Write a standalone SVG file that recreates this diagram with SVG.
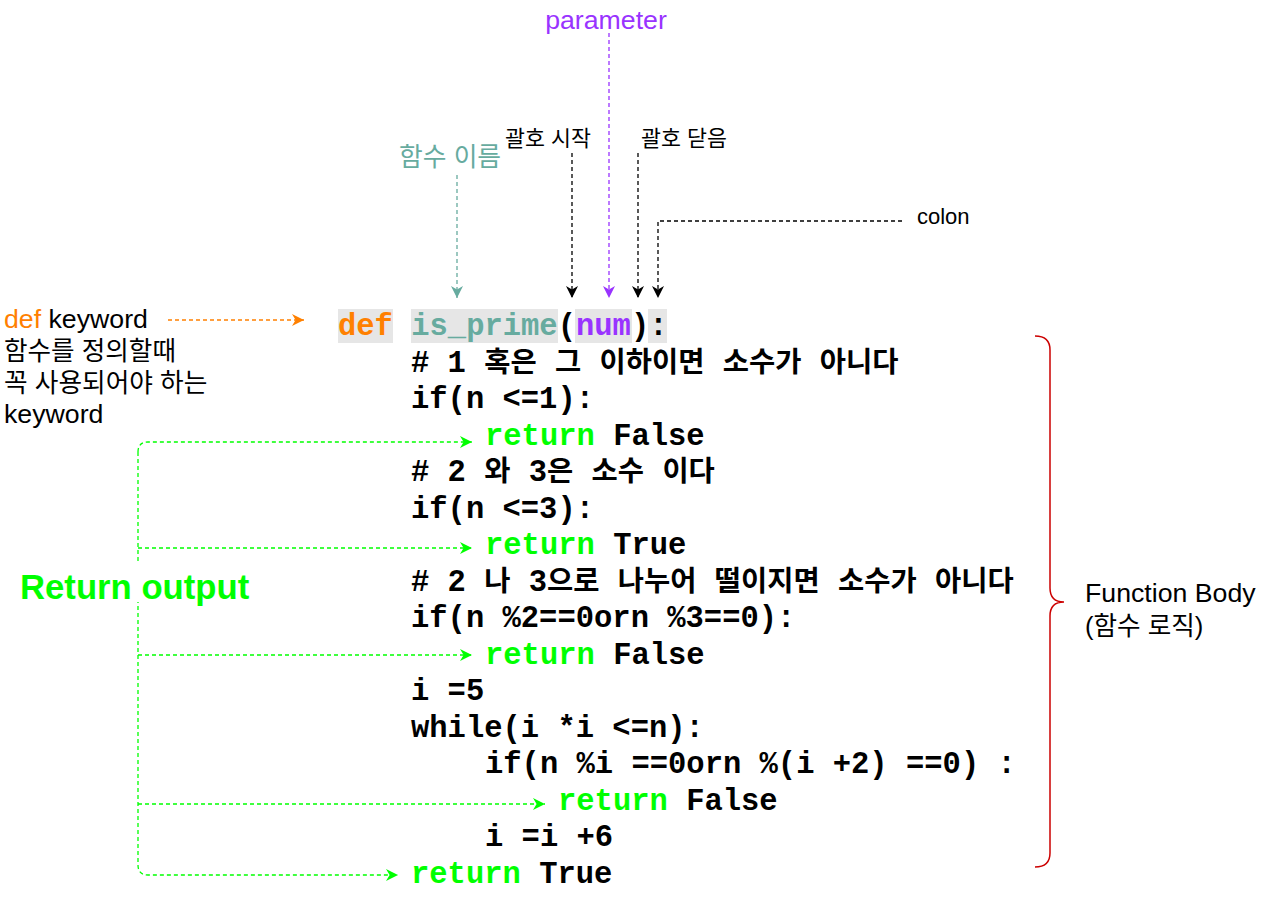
<svg xmlns="http://www.w3.org/2000/svg" width="1280" height="922" viewBox="0 0 1280 922">
<defs>
<style>
.c{font-family:"Liberation Mono","Noto Sans CJK KR",monospace;font-weight:bold;font-size:30.5px;fill:#000;white-space:pre}
.k{font-family:"Noto Sans CJK KR",sans-serif;font-size:28.5px;font-weight:bold}
.g{fill:#00FF00}
.lbl{font-family:"Liberation Sans","Noto Sans CJK KR",sans-serif;fill:#000}
.hl{fill:#E6E6E6}
.dash{fill:none;stroke-width:1.3;stroke-dasharray:4 3}
</style>
<marker id="mBlack" viewBox="0 0 10 10" refX="10" refY="5" markerWidth="12" markerHeight="12" markerUnits="userSpaceOnUse" orient="auto"><path d="M0,0 L10,5 L0,10 L3,5 z" fill="#000"/></marker>
<marker id="mTeal" viewBox="0 0 10 10" refX="10" refY="5" markerWidth="12" markerHeight="12" markerUnits="userSpaceOnUse" orient="auto"><path d="M0,0 L10,5 L0,10 L3,5 z" fill="#67AB9F"/></marker>
<marker id="mPurple" viewBox="0 0 10 10" refX="10" refY="5" markerWidth="12" markerHeight="12" markerUnits="userSpaceOnUse" orient="auto"><path d="M0,0 L10,5 L0,10 L3,5 z" fill="#9933FF"/></marker>
<marker id="mOrange" viewBox="0 0 10 10" refX="10" refY="5" markerWidth="12" markerHeight="12" markerUnits="userSpaceOnUse" orient="auto"><path d="M0,0 L10,5 L0,10 L3,5 z" fill="#FF8000"/></marker>
<marker id="mGreen" viewBox="0 0 10 10" refX="10" refY="5" markerWidth="12" markerHeight="12" markerUnits="userSpaceOnUse" orient="auto"><path d="M0,0 L10,5 L0,10 L3,5 z" fill="#00FF00"/></marker>
</defs>
<rect width="1280" height="922" fill="#FFFFFF"/>

<g id="connectors">
<path class="dash" stroke="#FF8000" d="M168,320 L304,320" marker-end="url(#mOrange)"/>
<path class="dash" stroke="#67AB9F" d="M457,175 L457,298" marker-end="url(#mTeal)"/>
<path class="dash" stroke="#000" d="M572,153 L572,298" marker-end="url(#mBlack)"/>
<path class="dash" stroke="#9933FF" d="M609,33 L609,298" marker-end="url(#mPurple)"/>
<path class="dash" stroke="#000" d="M638,153 L638,298" marker-end="url(#mBlack)"/>
<path class="dash" stroke="#000" d="M902,221 L658,221 L658,298" marker-end="url(#mBlack)"/>
<path class="dash" stroke="#00FF00" d="M138,452 L138,865"/>
<path class="dash" stroke="#00FF00" d="M138,452 Q138,442 148,442 L472,442" marker-end="url(#mGreen)"/>
<path class="dash" stroke="#00FF00" d="M138,548 L472,548" marker-end="url(#mGreen)"/>
<path class="dash" stroke="#00FF00" d="M138,655 L472,655" marker-end="url(#mGreen)"/>
<path class="dash" stroke="#00FF00" d="M138,804 L545,804" marker-end="url(#mGreen)"/>
<path class="dash" stroke="#00FF00" d="M138,865 Q138,875 148,875 L398,875" marker-end="url(#mGreen)"/>
</g>

<g id="label-parameter"><text class="lbl" x="606" y="29" font-size="26.7" text-anchor="middle" style="fill:#9933FF">parameter</text></g>
<g id="label-paren-open"><text class="lbl" x="505" y="146" font-size="21.7">괄호 시작</text></g>
<g id="label-paren-close"><text class="lbl" x="641" y="146" font-size="21.7">괄호 닫음</text></g>
<g id="label-func-name"><text class="lbl" x="399" y="166" font-size="25.8" style="fill:#67AB9F">함수 이름</text></g>
<g id="label-colon"><text class="lbl" x="917" y="224" font-size="22">colon</text></g>

<g id="label-def-keyword">
<text class="lbl" x="4" y="328" font-size="26.7"><tspan style="fill:#FF8000">def</tspan> keyword</text>
<text class="lbl" x="4" y="360" font-size="25.6">함수를 정의할때</text>
<text class="lbl" x="4" y="392" font-size="25.7">꼭 사용되어야 하는</text>
<text class="lbl" x="4" y="423" font-size="26.7">keyword</text>
</g>

<g id="label-return-output">
<rect x="18" y="563" width="234" height="39" fill="#FFFFFF"/>
<text class="lbl" x="20" y="599" font-size="34.7" font-weight="bold" style="fill:#00FF00">Return output</text>
</g>

<g id="function-body-brace">
<path d="M1035,336 Q1050,336 1050,350 L1050,588 Q1050,602 1064,602 Q1050,602 1050,616 L1050,853 Q1050,867 1035,867" fill="none" stroke="#CC0000" stroke-width="1.5"/>
<text class="lbl" x="1085" y="602" font-size="26.7">Function Body</text>
<text class="lbl" x="1085" y="635" font-size="25.6">(함수 로직)</text>
</g>

<g id="code">
<rect class="hl" x="338" y="309" width="55" height="34"/>
<rect class="hl" x="411" y="309" width="147" height="34"/>
<rect class="hl" x="575" y="309" width="57" height="34"/>
<rect class="hl" x="648" y="309" width="19" height="34"/>
<text class="c" x="338" y="335"><tspan style="fill:#FF8000">def</tspan> <tspan style="fill:#67AB9F">is_prime</tspan>(<tspan style="fill:#9933FF">num</tspan>):</text>
<text class="c" x="411" y="371.5"># 1 <tspan class="k">혹은</tspan> <tspan class="k">그</tspan> <tspan class="k">이하이면</tspan> <tspan class="k">소수가</tspan> <tspan class="k">아니다</tspan></text>
<text class="c" x="411" y="408">if(n &lt;=1):</text>
<text class="c" x="485" y="444.5"><tspan class="g">return</tspan> False</text>
<text class="c" x="411" y="481"># 2 <tspan class="k">와</tspan> 3<tspan class="k">은</tspan> <tspan class="k">소수</tspan> <tspan class="k">이다</tspan></text>
<text class="c" x="411" y="517.5">if(n &lt;=3):</text>
<text class="c" x="485" y="554"><tspan class="g">return</tspan> True</text>
<text class="c" x="411" y="590.5"># 2 <tspan class="k">나</tspan> 3<tspan class="k">으로</tspan> <tspan class="k">나누어</tspan> <tspan class="k">떨이지면</tspan> <tspan class="k">소수가</tspan> <tspan class="k">아니다</tspan></text>
<text class="c" x="411" y="627">if(n %2==0orn %3==0):</text>
<text class="c" x="485" y="663.5"><tspan class="g">return</tspan> False</text>
<text class="c" x="411" y="700">i =5</text>
<text class="c" x="411" y="736.5">while(i *i &lt;=n):</text>
<text class="c" x="485" y="773">if(n %i ==0orn %(i +2) ==0) :</text>
<text class="c" x="558" y="809.5"><tspan class="g">return</tspan> False</text>
<text class="c" x="485" y="846">i =i +6</text>
<text class="c" x="411" y="882.5"><tspan class="g">return</tspan> True</text>
</g>
</svg>
